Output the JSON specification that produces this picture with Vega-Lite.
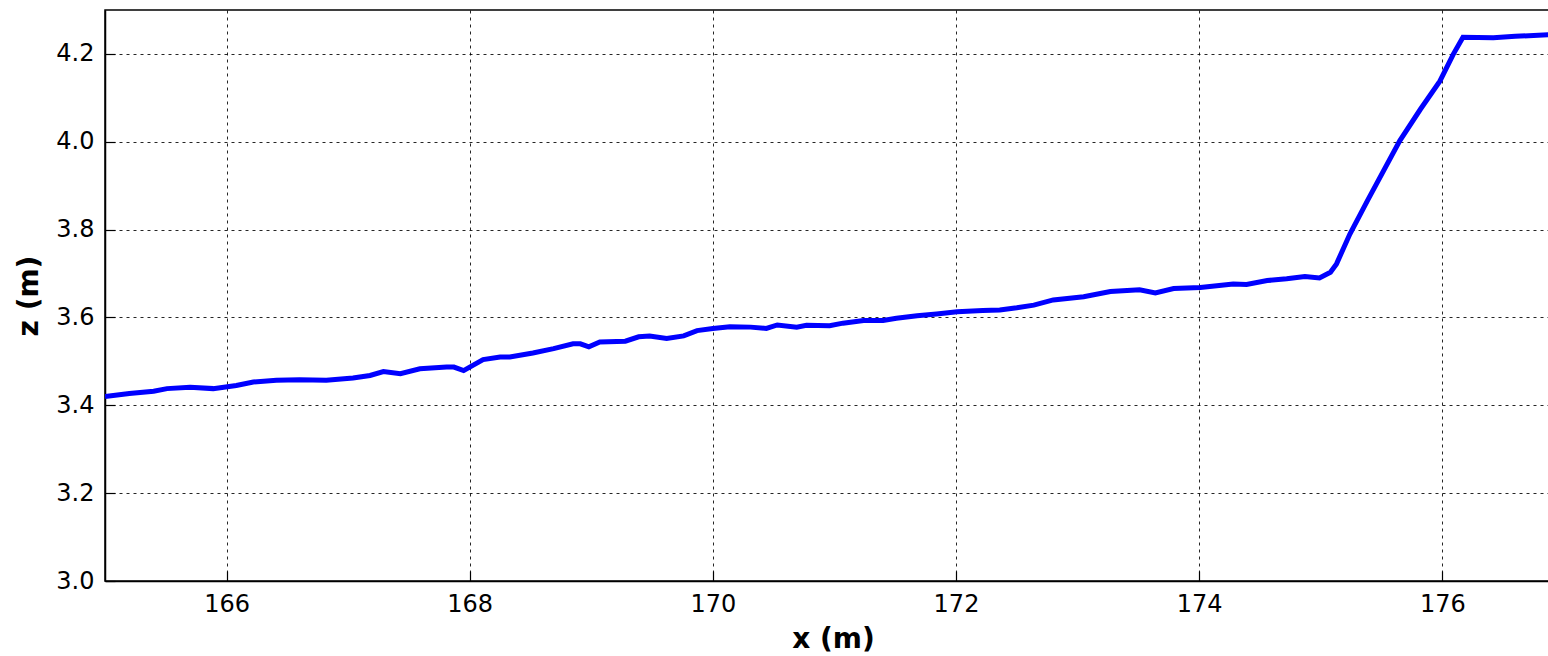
{
  "$schema": "https://vega.github.io/schema/vega-lite/v6.json",
  "width": 1445,
  "height": 571,
  "autosize": {"type": "none"},
  "padding": {"left": 105, "top": 10, "right": 0, "bottom": 75},
  "background": "white",
  "config": {
    "view": {"stroke": "black", "strokeWidth": 1.5},
    "font": "DejaVu Sans",
    "axis": {
      "labelFont": "DejaVu Sans",
      "labelFontSize": 24,
      "labelColor": "black",
      "titleFont": "DejaVu Sans",
      "titleFontSize": 28,
      "titleFontWeight": "bold",
      "titleColor": "black",
      "domainColor": "black",
      "domainWidth": 1.5,
      "tickColor": "black",
      "tickWidth": 1.2,
      "tickSize": -10,
      "gridColor": "black",
      "gridDash": [3, 4],
      "gridWidth": 1,
      "gridOpacity": 0.85
    }
  },
  "data": {
    "values": [
      {"x": 165.00, "z": 3.420},
      {"x": 165.20, "z": 3.427},
      {"x": 165.40, "z": 3.432},
      {"x": 165.51, "z": 3.438},
      {"x": 165.70, "z": 3.441},
      {"x": 165.89, "z": 3.438},
      {"x": 166.08, "z": 3.445},
      {"x": 166.22, "z": 3.453},
      {"x": 166.41, "z": 3.457},
      {"x": 166.60, "z": 3.458},
      {"x": 166.82, "z": 3.457},
      {"x": 167.04, "z": 3.462},
      {"x": 167.18, "z": 3.468},
      {"x": 167.29, "z": 3.477},
      {"x": 167.43, "z": 3.472},
      {"x": 167.59, "z": 3.483},
      {"x": 167.81, "z": 3.487},
      {"x": 167.87, "z": 3.487},
      {"x": 167.95, "z": 3.479},
      {"x": 168.00, "z": 3.487},
      {"x": 168.11, "z": 3.504},
      {"x": 168.25, "z": 3.510},
      {"x": 168.33, "z": 3.510},
      {"x": 168.52, "z": 3.519},
      {"x": 168.69, "z": 3.529},
      {"x": 168.85, "z": 3.540},
      {"x": 168.91, "z": 3.540},
      {"x": 168.98, "z": 3.533},
      {"x": 169.07, "z": 3.544},
      {"x": 169.28, "z": 3.546},
      {"x": 169.39, "z": 3.556},
      {"x": 169.48, "z": 3.558},
      {"x": 169.62, "z": 3.552},
      {"x": 169.76, "z": 3.558},
      {"x": 169.87, "z": 3.570},
      {"x": 170.00, "z": 3.575},
      {"x": 170.14, "z": 3.579},
      {"x": 170.31, "z": 3.578},
      {"x": 170.44, "z": 3.575},
      {"x": 170.53, "z": 3.583},
      {"x": 170.69, "z": 3.578},
      {"x": 170.77, "z": 3.582},
      {"x": 170.96, "z": 3.581},
      {"x": 171.07, "z": 3.587},
      {"x": 171.24, "z": 3.593},
      {"x": 171.40, "z": 3.593},
      {"x": 171.51, "z": 3.598},
      {"x": 171.68, "z": 3.604},
      {"x": 171.84, "z": 3.608},
      {"x": 172.01, "z": 3.613},
      {"x": 172.22, "z": 3.616},
      {"x": 172.36, "z": 3.617},
      {"x": 172.50, "z": 3.622},
      {"x": 172.64, "z": 3.628},
      {"x": 172.80, "z": 3.640},
      {"x": 173.05, "z": 3.647},
      {"x": 173.27, "z": 3.659},
      {"x": 173.51, "z": 3.663},
      {"x": 173.64, "z": 3.656},
      {"x": 173.79, "z": 3.666},
      {"x": 174.01, "z": 3.668},
      {"x": 174.28, "z": 3.676},
      {"x": 174.39, "z": 3.675},
      {"x": 174.56, "z": 3.684},
      {"x": 174.72, "z": 3.688},
      {"x": 174.87, "z": 3.693},
      {"x": 174.99, "z": 3.690},
      {"x": 175.08, "z": 3.703},
      {"x": 175.13, "z": 3.722},
      {"x": 175.24, "z": 3.790},
      {"x": 175.39, "z": 3.869},
      {"x": 175.65, "z": 4.002},
      {"x": 175.82, "z": 4.074},
      {"x": 175.98, "z": 4.138},
      {"x": 176.09, "z": 4.199},
      {"x": 176.17, "z": 4.238},
      {"x": 176.42, "z": 4.237},
      {"x": 176.60, "z": 4.240},
      {"x": 176.886, "z": 4.244}
    ]
  },
  "mark": {"type": "line", "color": "#0000ff", "strokeWidth": 5, "clip": true},
  "encoding": {
    "x": {
      "field": "x",
      "type": "quantitative",
      "title": "x (m)",
      "scale": {"domain": [165, 176.886], "nice": false, "zero": false},
      "axis": {
        "values": [166, 168, 170, 172, 174, 176],
        "format": "d",
        "labelPadding": 21,
        "titleY": 66,
        "titleX": 728,
        "titleBaseline": "alphabetic"
      }
    },
    "y": {
      "field": "z",
      "type": "quantitative",
      "title": "z (m)",
      "scale": {"domain": [3.0, 4.3], "nice": false, "zero": false},
      "axis": {
        "values": [3.0, 3.2, 3.4, 3.6, 3.8, 4.0, 4.2],
        "format": ".1f",
        "labelPadding": 21,
        "titleX": -68,
        "titleBaseline": "alphabetic"
      }
    }
  }
}
